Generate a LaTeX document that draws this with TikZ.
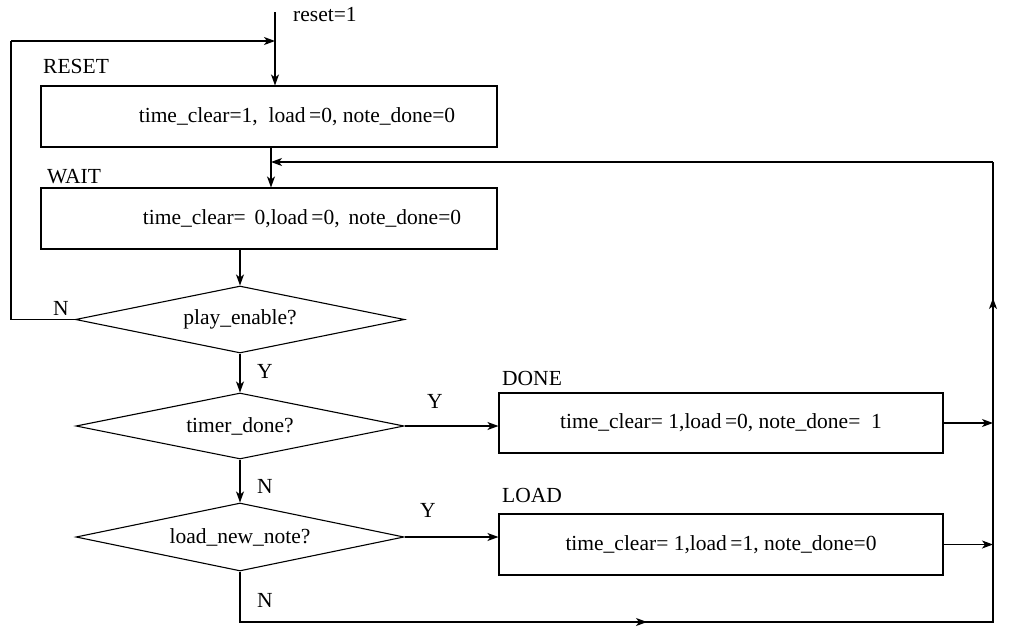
\documentclass[tikz,border=0pt]{standalone}
\usepackage{fontspec}
\setmainfont{Liberation Serif}
\newfontfamily\diagfont{Liberation Serif}
\usetikzlibrary{shapes.geometric,arrows.meta}
\begin{document}
\begin{tikzpicture}[x=1pt,y=-1pt,
  every node/.style={font=\diagfont\fontsize{21.5}{25}\selectfont},
  line/.style={line width=1.1pt},
  arr/.style={line width=1.1pt,-{Stealth[length=11pt,width=8pt,inset=3pt]}},
  statebox/.style={draw,line width=1.1pt,rectangle,inner sep=0pt},
  decision/.style={draw,line width=1.1pt,diamond,inner sep=0pt,aspect=4.9},
  lbl/.style={anchor=base west,inner sep=0pt}]
\useasboundingbox (0,0) rectangle (1013,638);
% state boxes
\node[statebox,minimum width=456pt,minimum height=61pt] (reset) at (269,116.5) {};
\node[inner sep=0pt] (resettxt) at (297,116.5) {time\_clear=1,\ \ load\,=0, note\_done=0};
\node[statebox,minimum width=456pt,minimum height=61pt] (wait) at (269,218.5) {};
\node[inner sep=0pt] (waittxt) at (302,218.5) {time\_clear=\ \,0,load\,=0,\, note\_done=0};
\node[statebox,minimum width=444pt,minimum height=60pt] (done) at (721,423) {time\_clear=\ 1,load\,=0, note\_done=\ \ 1};
\node[statebox,minimum width=444pt,minimum height=61pt] (load) at (721,544.5) {time\_clear=\ 1,load\,=1, note\_done=0};
% decisions
\node[decision,minimum width=329pt,minimum height=67pt] (d1) at (240,319.5) {play\_enable?};
\node[decision,minimum width=328pt,minimum height=66pt] (d2) at (240,426) {timer\_done?};
\node[decision,minimum width=328pt,minimum height=68pt] (d3) at (240,537) {load\_new\_note?};
% labels
\node[lbl] (lreset) at (43,73) {RESET};
\node[lbl] (lwait) at (47,183) {WAIT};
\node[lbl] (ldone) at (502,385) {DONE};
\node[lbl] (lload) at (502,502) {LOAD};
\node[lbl] (rs) at (293,21) {reset=1};
\node[lbl] (n1) at (53,315) {N};
\node[lbl] (y1) at (257,378) {Y};
\node[lbl] (y2) at (427,408) {Y};
\node[lbl] (n2) at (257,493) {N};
\node[lbl] (y3) at (420,517) {Y};
\node[lbl] (n3) at (257,607) {N};
% coordinates
\coordinate (top) at (275,12);
\coordinate (j1) at (275,41);
\coordinate (c1) at (11,319.5);
\coordinate (c2) at (11,41);
\coordinate (b1) at (240,622);
\coordinate (bm) at (647,622);
\coordinate (b2) at (993,622);
\coordinate (rm) at (993,298);
\coordinate (r1) at (993,162);
\coordinate (fb) at (271,162);
% connectors
\draw[arr] (top) -- (top |- reset.north);
\draw[line] (d1.west) -- (c1) -- (c2);
\draw[arr] (c2) -- (j1);
\draw[arr] (fb |- reset.south) -- (fb |- wait.north);
\draw[arr] (d1.north |- wait.south) -- (d1.north);
\draw[arr] (d1.south) -- (d2.north);
\draw[arr] (d2.south) -- (d3.north);
\draw[arr] (d2.east) -- (d2.east -| done.west);
\draw[arr] (d3.east) -- (d3.east -| load.west);
\draw[arr] (done.east) -- (done.east -| b2);
\draw[arr] (load.east) -- (load.east -| b2);
\draw[line] (d3.south) -- (b1) -- (b2) -- (r1);
\draw[arr] (b1) -- (bm);
\draw[arr] (b2) -- (rm);
\draw[arr] (r1) -- (fb);
\end{tikzpicture}
\end{document}
